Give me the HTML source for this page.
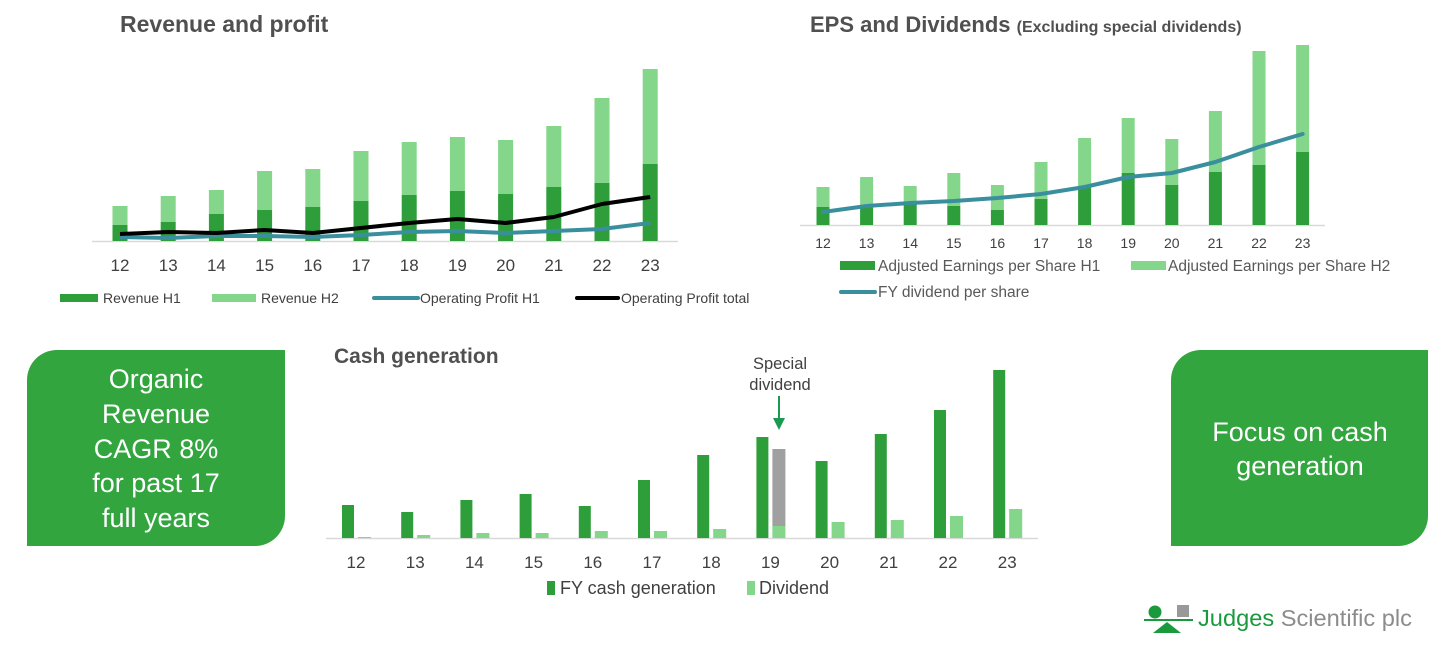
<!DOCTYPE html>
<html><head><meta charset="utf-8">
<style>
html,body{margin:0;padding:0;background:#fff;width:1456px;height:650px;overflow:hidden;font-family:"Liberation Sans",Arial,sans-serif;}
svg{position:absolute;left:0;top:0;}
</style></head>
<body>
<svg id="s" width="1456" height="650" viewBox="0 0 1456 650" xmlns="http://www.w3.org/2000/svg">
  <text x="120" y="32" font-size="23" font-weight="bold" fill="#505050">Revenue and profit</text>
  <text x="810" y="32" font-size="22" font-weight="bold" fill="#505050">EPS and Dividends <tspan font-size="16">(Excluding special dividends)</tspan></text>
  <text x="334" y="363" font-size="21" font-weight="bold" fill="#505050">Cash generation</text>

  <g id="rev"></g>
  <g id="eps"></g>
  <g id="cash"></g>

  <!-- legends -->
  <g font-size="14" fill="#404040">
    <rect x="60" y="294" width="38" height="8" fill="#2e9e3a"/>
    <text x="103" y="303">Revenue H1</text>
    <rect x="212" y="294" width="44" height="8" fill="#83d68a"/>
    <text x="261" y="303">Revenue H2</text>
    <line x1="374" y1="298" x2="418" y2="298" stroke="#3a8f9e" stroke-width="4" stroke-linecap="round"/>
    <text x="420" y="303">Operating Profit H1</text>
    <line x1="577" y1="298" x2="618" y2="298" stroke="#000" stroke-width="4" stroke-linecap="round"/>
    <text x="621" y="303">Operating Profit total</text>
  </g>
  <g font-size="15.5" fill="#595959">
    <rect x="840" y="261" width="35" height="9" fill="#2e9e3a"/>
    <text x="878" y="271">Adjusted Earnings per Share H1</text>
    <rect x="1131" y="261" width="35" height="9" fill="#83d68a"/>
    <text x="1168" y="271">Adjusted Earnings per Share H2</text>
    <line x1="841" y1="292" x2="875" y2="292" stroke="#3a8f9e" stroke-width="4" stroke-linecap="round"/>
    <text x="878" y="297">FY dividend per share</text>
  </g>
  <g font-size="18" fill="#404040">
    <rect x="547" y="581" width="8" height="14" fill="#2e9e3a"/>
    <text x="560" y="594">FY cash generation</text>
    <rect x="747" y="581" width="8" height="14" fill="#83d68a"/>
    <text x="759" y="594">Dividend</text>
  </g>

  <!-- special dividend annotation -->
  <g>
    <text x="780" y="369" font-size="16.5" fill="#404040" text-anchor="middle">Special</text>
    <text x="780" y="390" font-size="16.5" fill="#404040" text-anchor="middle">dividend</text>
    <line x1="779" y1="396" x2="779" y2="420" stroke="#1a9a50" stroke-width="2"/>
    <polygon points="773,418 785,418 779,430" fill="#1a9a50"/>
  </g>

  <!-- boxes -->
  <g>
    <path d="M57,350 H285 V516 A30,30 0 0 1 255,546 H27 V380 A30,30 0 0 1 57,350 Z" fill="#33a53e"/>
    <g font-size="27" fill="#fff" text-anchor="middle">
      <text x="156" y="388">Organic</text>
      <text x="156" y="423">Revenue</text>
      <text x="156" y="458">CAGR 8%</text>
      <text x="156" y="492">for past 17</text>
      <text x="156" y="527">full years</text>
    </g>
  </g>
  <g>
    <path d="M1201,350 H1428 V516 A30,30 0 0 1 1398,546 H1171 V380 A30,30 0 0 1 1201,350 Z" fill="#33a53e"/>
    <g font-size="27" fill="#fff" text-anchor="middle">
      <text x="1300" y="441">Focus on cash</text>
      <text x="1300" y="475">generation</text>
    </g>
  </g>

  <!-- logo -->
  <g>
    <circle cx="1155" cy="612" r="6.5" fill="#1a9a3c"/>
    <rect x="1177" y="605" width="12" height="12" fill="#999"/>
    <rect x="1144" y="619" width="49" height="2" fill="#1a9a3c"/>
    <polygon points="1167,622 1181,633 1153,633" fill="#1a9a3c"/>
    <text x="1198" y="626" font-size="23" fill="#1a9a3c" textLength="214" lengthAdjust="spacingAndGlyphs">Judges <tspan fill="#8c8c8c">Scientific plc</tspan></text>
  </g>
</svg>
<script>
// ---------- data ----------
const years = ["12","13","14","15","16","17","18","19","20","21","22","23"];
// Revenue chart (£m, estimated)
const revenueH1 = [16,19,27,31,34,40,46,50,47,54,58,77];
const revenueH2 = [19,26,24,39,38,50,53,54,54,61,85,95];
const opProfitH1 = [4,3,5,5,4,6,9,10,8,10,12,18];
const opProfitTotal = [7,9,8,11,8,13,18,22,18,24,37,44];
// EPS chart (estimated)
const epsH1 = [18,20,23,19,15,26,38,52,40,53,60,73];
const epsH2 = [20,28,16,33,25,37,49,55,46,61,114,107];
const fyDividend = [13,19,22,24,27,31,38,48,52,63,78,91];
// Cash chart (estimated)
const cashGeneration = [33,26,38,44,32,58,83,101,77,104,128,168];
const dividend = [1,3,5,5,7,7,9,12,16,18,22,29];
const specialDividend = [0,0,0,0,0,0,0,77,0,0,0,0];

const NS = "http://www.w3.org/2000/svg";
function mk(parent, tag, attrs){
  const e = document.createElementNS(NS, tag);
  for (const k in attrs) e.setAttribute(k, attrs[k]);
  parent.appendChild(e);
  return e;
}
function makeX(x0, step){ return i => x0 + i*step; }
function makeY(base, pxPerUnit){ return v => base - v*pxPerUnit; }

// ---------- Revenue ----------
(function(){
  const g = document.getElementById('rev');
  const x = makeX(120, 48.2), y = makeY(241, 1);
  mk(g,'line',{x1:92,y1:241.5,x2:678,y2:241.5,stroke:'#d9d9d9','stroke-width':1.5});
  years.forEach((yr,i)=>{
    const b1 = mk(g,'rect',{x:x(i)-7.5,y:y(revenueH1[i]),width:15,height:241-y(revenueH1[i]),fill:'#2e9e3a'});
    
    
    const top = revenueH1[i]+revenueH2[i];
    const b2 = mk(g,'rect',{x:x(i)-7.5,y:y(top),width:15,height:y(revenueH1[i])-y(top),fill:'#83d68a'});
    
    
    const t = mk(g,'text',{x:x(i),y:271,'font-size':17,fill:'#404040','text-anchor':'middle'});
    t.textContent = yr;
    
    
  });
  const p1 = mk(g,'polyline',{points:opProfitH1.map((v,i)=>x(i)+','+y(v)).join(' '),fill:'none',stroke:'#3a8f9e','stroke-width':4,'stroke-linejoin':'round'});
  
  
  const p2 = mk(g,'polyline',{points:opProfitTotal.map((v,i)=>x(i)+','+y(v)).join(' '),fill:'none',stroke:'#000','stroke-width':4,'stroke-linejoin':'round'});
  
  
})();

// ---------- EPS ----------
(function(){
  const g = document.getElementById('eps');
  const x = makeX(823, 43.6), y = makeY(225, 1);
  mk(g,'line',{x1:800,y1:225.5,x2:1325,y2:225.5,stroke:'#d9d9d9','stroke-width':1.5});
  years.forEach((yr,i)=>{
    const b1 = mk(g,'rect',{x:x(i)-6.5,y:y(epsH1[i]),width:13,height:225-y(epsH1[i]),fill:'#2e9e3a'});
    
    
    const top = epsH1[i]+epsH2[i];
    const b2 = mk(g,'rect',{x:x(i)-6.5,y:Math.max(y(top),44),width:13,height:y(epsH1[i])-Math.max(y(top),44),fill:'#83d68a'});
    
    
    const t = mk(g,'text',{x:x(i),y:248,'font-size':14,fill:'#404040','text-anchor':'middle'});
    t.textContent = yr;
    
    
  });
  const p = mk(g,'polyline',{points:fyDividend.map((v,i)=>x(i)+','+y(v)).join(' '),fill:'none',stroke:'#3a8f9e','stroke-width':4,'stroke-linejoin':'round','stroke-linecap':'round'});
  
  
})();

// ---------- Cash ----------
(function(){
  const g = document.getElementById('cash');
  const x = makeX(356, 59.2), y = makeY(538, 1);
  mk(g,'line',{x1:326,y1:538.5,x2:1038,y2:538.5,stroke:'#d9d9d9','stroke-width':1.5});
  years.forEach((yr,i)=>{
    const b1 = mk(g,'rect',{x:x(i)-14,y:y(cashGeneration[i]),width:12,height:538-y(cashGeneration[i]),fill:'#2e9e3a'});
    
    
    const b2 = mk(g,'rect',{x:x(i)+2,y:y(dividend[i]),width:13,height:538-y(dividend[i]),fill:'#83d68a'});
    
    
    if (specialDividend[i] > 0){
      const top = dividend[i]+specialDividend[i];
      const b3 = mk(g,'rect',{x:x(i)+2,y:y(top),width:13,height:y(dividend[i])-y(top),fill:'#a0a0a0'});
      
      
    }
    const t = mk(g,'text',{x:x(i),y:568,'font-size':17,fill:'#404040','text-anchor':'middle'});
    t.textContent = yr;
    
    
  });
})();
</script>
</body></html>
